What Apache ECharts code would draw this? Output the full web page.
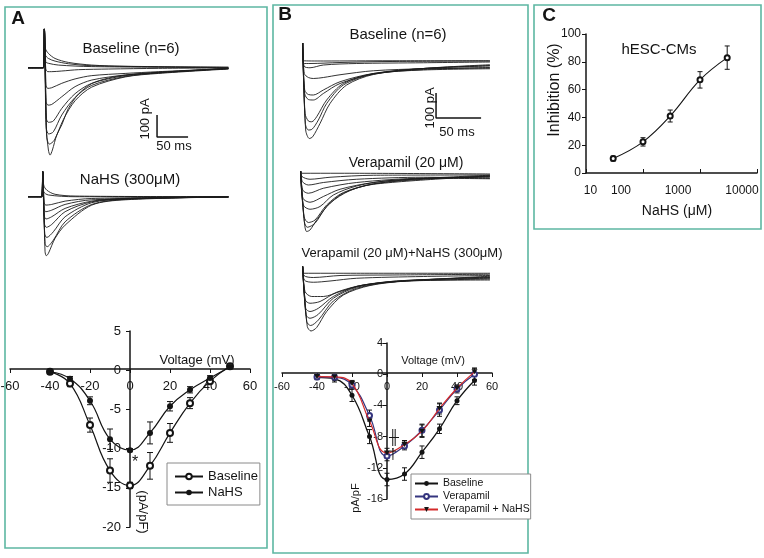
<!DOCTYPE html>
<html><head><meta charset="utf-8">
<script src="https://cdn.jsdelivr.net/npm/echarts@6/dist/echarts.min.js"></script>
<style>html,body{margin:0;padding:0;background:#fff}#c{width:764px;height:558px}</style>
</head><body><div id="c"></div>
<script>
// ---------------- DATA ----------------
// Panel A current traces (time ms, current pA)
const A_BASE_PRE = [[0,0],[24.8,0],[26.4,176]];
const A_BASE_TRACES = [
 [[28.0,88],[32.9,65],[43.6,42],[65.1,24],[102.8,12],[156.6,6],[323,2]],
 [[28.0,58],[32.9,42],[43.6,30],[65.1,18],[102.8,9],[323,2]],
 [[28.6,27],[32.9,20],[49.0,12],[102.8,5],[323,0]],
 [[28.6,-3],[31.8,-18],[38.2,-18],[54.4,-15],[81.3,-9],[129.7,-6],[210.4,-3],[323,-1]],
 [[29.1,-79],[31.8,-94],[38.2,-91],[54.4,-71],[75.9,-51],[102.8,-36],[156.6,-26],[210.4,-18],[323,-4]],
 [[29.1,-154],[32.3,-170],[38.2,-167],[54.4,-132],[75.9,-86],[102.8,-56],[156.6,-33],[210.4,-21],[323,-4]],
 [[29.6,-230],[32.9,-248],[40.9,-242],[54.4,-185],[75.9,-118],[102.8,-71],[156.6,-36],[210.4,-23],[323,-4]],
 [[29.6,-276],[33.4,-301],[40.9,-291],[54.4,-215],[75.9,-135],[102.8,-80],[156.6,-40],[210.4,-24],[323,-4]],
 [[30.2,-314],[34.5,-347],[42.5,-329],[57.1,-235],[75.9,-150],[102.8,-88],[156.6,-42],[210.4,-26],[323,-6]],
 [[29.1,-261],[32.9,-374],[35.6,-397],[39.3,-374],[46.3,-306],[54.4,-260],[65.1,-185],[81.3,-120],[102.8,-72],[129.7,-47],[156.6,-34],[210.4,-21],[264.2,-12],[323,-3]]
];
const A_NAHS_PRE = [[0,0],[22.1,0],[23.7,114]];
const A_NAHS_TRACES = [
 [[25.3,53],[30.2,30],[43.6,11],[75.9,3],[323,0]],
 [[25.3,23],[32.9,8],[75.9,0],[323,0]],
 [[25.9,-23],[28.6,-38],[38.2,-35],[59.8,-20],[102.8,-8],[323,-1]],
 [[25.9,-53],[28.6,-68],[38.2,-61],[59.8,-35],[102.8,-14],[323,-1]],
 [[25.9,-83],[29.1,-101],[38.2,-91],[59.8,-53],[102.8,-20],[156.6,-8],[323,-1]],
 [[26.4,-121],[29.6,-139],[38.2,-126],[59.8,-68],[102.8,-23],[156.6,-9],[323,-1]],
 [[26.9,-167],[30.2,-185],[40.9,-159],[59.8,-91],[102.8,-27],[156.6,-11],[323,-1]],
 [[27.5,-212],[30.7,-227],[40.9,-197],[59.8,-114],[102.8,-35],[156.6,-12],[323,-1]],
 [[27.5,-250],[29.6,-268],[32.9,-257],[43.6,-189],[59.8,-129],[102.8,-38],[156.6,-14],[323,-1]]
];
// Panel B current traces (time ms, current pA)
const B_BASE_PRE = [[3.0,75]];
const B_BASE_TRACES = [
 [[4.1,4],[25.9,3],[99.9,4],[210.9,4]],
 [[4.1,-7],[11.1,-7],[44.4,-3],[99.9,1],[210.9,3]],
 [[4.4,-17],[11.1,-24],[25.9,-13],[62.9,-7],[136.9,-4],[210.9,-1]],
 [[4.8,-47],[9.3,-63],[14.8,-67],[25.9,-63],[44.4,-52],[81.4,-36],[136.9,-28],[210.9,-25]],
 [[5.2,-113],[9.3,-131],[14.8,-133],[25.9,-113],[44.4,-80],[81.4,-47],[136.9,-33],[210.9,-28]],
 [[5.2,-127],[9.3,-151],[14.8,-153],[25.9,-127],[44.4,-87],[81.4,-49],[136.9,-31],[210.9,-23]],
 [[5.6,-207],[9.3,-237],[13.0,-240],[18.5,-220],[29.6,-153],[48.1,-87],[81.4,-47],[136.9,-27],[210.9,-17]],
 [[5.9,-247],[9.3,-273],[13.0,-271],[20.4,-233],[29.6,-167],[48.1,-93],[81.4,-49],[136.9,-27],[210.9,-15]],
 [[6.3,-273],[10.4,-307],[14.1,-300],[22.2,-247],[33.3,-167],[51.8,-93],[81.4,-51],[136.9,-27],[210.9,-12]]
];
const B_VERA_PRE = [[0.7,9]];
const B_VERA_TRACES = [
 [[1.9,0],[44.4,0],[210.9,-3]],
 [[2.2,-13],[11.1,-24],[33.3,-16],[81.4,-8],[210.9,-7]],
 [[2.6,-33],[9.3,-47],[25.9,-37],[62.9,-24],[136.9,-16],[210.9,-20]],
 [[3.0,-67],[9.3,-80],[25.9,-60],[62.9,-37],[136.9,-20],[210.9,-22]],
 [[3.3,-100],[11.1,-116],[25.9,-93],[44.4,-64],[81.4,-37],[136.9,-20],[210.9,-16]],
 [[3.7,-127],[11.1,-144],[22.2,-133],[37.0,-87],[62.9,-51],[99.9,-29],[210.9,-13]],
 [[4.4,-173],[9.3,-197],[16.7,-187],[29.6,-127],[48.1,-77],[81.4,-43],[136.9,-24],[210.9,-11]],
 [[4.8,-193],[8.1,-216],[16.7,-200],[29.6,-133],[48.1,-80],[81.4,-44],[210.9,-11]],
 [[5.2,-207],[7.4,-233],[11.1,-227],[18.5,-187],[33.3,-120],[55.5,-69],[85.1,-40],[136.9,-21],[210.9,-8]]
];
const B_VN_PRE = [[3.0,27]];
const B_VN_TRACES = [
 [[4.4,0],[62.9,0],[210.9,0]],
 [[4.4,-9],[14.8,-17],[44.4,-9],[99.9,-7],[210.9,-4]],
 [[4.8,-27],[14.8,-36],[33.3,-31],[62.9,-20],[136.9,-13],[210.9,-9]],
 [[5.6,-73],[13.0,-93],[25.9,-93],[44.4,-73],[70.3,-47],[118.4,-31],[210.9,-27]],
 [[5.9,-107],[11.1,-120],[22.2,-113],[40.7,-76],[70.3,-47],[118.4,-31],[210.9,-23]],
 [[6.3,-140],[11.1,-153],[20.4,-140],[37.0,-93],[62.9,-53],[107.3,-31],[210.9,-20]],
 [[6.7,-167],[11.1,-180],[20.4,-164],[37.0,-100],[62.9,-56],[107.3,-31],[210.9,-17]],
 [[7.4,-193],[11.8,-209],[20.4,-187],[37.0,-111],[62.9,-60],[107.3,-33],[210.9,-15]],
 [[8.1,-213],[12.2,-231],[18.5,-217],[29.6,-153],[48.1,-87],[77.7,-49],[118.4,-31],[210.9,-12]]
];
// Scale bars (ms, pA): 100 pA / 50 ms
const A_SCALE_BAR = [[208,-215],[208,-315],[258,-315]];
const B_SCALE_BAR = [[151,-125],[151,-225],[201,-225]];

// I-V curves
const IV_VOLT = [-40,-30,-20,-10,0,10,20,30,40,50];
const A_IV_BASE = [-0.2,-1.7,-7.0,-12.8,-14.7,-12.2,-8.0,-4.2,-1.4,0.5];
const A_IV_BASE_ERR = [0,0.4,0.9,1.5,0.4,1.7,1.2,0.7,0.3,0];
const A_IV_NAHS = [-0.2,-1.1,-3.9,-8.8,-10.2,-8.0,-4.6,-2.5,-1.0,0.4];
const A_IV_NAHS_ERR = [0,0.3,0.5,1.3,0.2,1.4,0.6,0.4,0.3,0];
const B_IV_BASE = [-0.4,-0.6,-2.7,-8.0,-13.5,-12.8,-10.0,-7.0,-3.4,-0.8];
const B_IV_BASE_ERR = [0.3,0.4,0.8,0.9,0.8,0.8,0.8,0.6,0.5,0.6];
const B_IV_VERA = [-0.35,-0.4,-1.4,-5.3,-10.5,-9.2,-7.2,-4.6,-1.9,0.0];
const B_IV_VERA_ERR = [0.2,0.3,0.5,0.7,0.6,0.5,0.8,0.8,0.5,0.7];
const B_IV_VN = [-0.3,-0.35,-1.2,-6.0,-10.1,-9.0,-7.3,-4.4,-1.8,0.3];
const B_IV_VN_ERR = [0.2,0.3,0.4,0.7,0.6,0.5,0.8,0.7,0.4,0.5];

// Panel C dose-response
const C_CONC = [30,100,300,1000,3000];
const C_INHIB = [10.4,22.4,41,67,83];
const C_ERR = [1.8,3,4.3,5.9,8.4];

// ---------------- BUILD ----------------
const FONT = 'Liberation Sans, Arial, Helvetica, sans-serif';
const INK = '#141414';
const chart = echarts.init(document.getElementById('c'), null, {renderer:'canvas'});

function pairs(xs, ys){ return xs.map((x,i)=>[x, ys[i]]); }
function errData(xs, ys, es){ const o=[]; xs.forEach((x,i)=>{ if(es[i]>0) o.push([x, ys[i]-es[i], ys[i]+es[i]]); }); return o; }
function errSeries(idx, data, cap, color){
  return {type:'custom', xAxisIndex:idx, yAxisIndex:idx, data:data, encode:{x:0,y:[1,2]}, z:4, silent:true,
    renderItem:function(params, api){
      const x=api.value(0), a=api.coord([x, api.value(1)]), b=api.coord([x, api.value(2)]);
      const st={stroke:color||INK, lineWidth:1};
      return {type:'group', children:[
        {type:'line', shape:{x1:a[0],y1:a[1],x2:b[0],y2:b[1]}, style:st},
        {type:'line', shape:{x1:a[0]-cap,y1:a[1],x2:a[0]+cap,y2:a[1]}, style:st},
        {type:'line', shape:{x1:b[0]-cap,y1:b[1],x2:b[0]+cap,y2:b[1]}, style:st}]};
    }};
}
function traceSeries(idx, pre, traces){
  return traces.map(tr=>({type:'line', xAxisIndex:idx, yAxisIndex:idx, data:pre.concat(tr), symbol:'none',
    smooth:0.3, silent:true, lineStyle:{color:'#1c1c1c', width:0.9}, z:2}));
}
function scaleSeries(idx, pts){
  return {type:'line', xAxisIndex:idx, yAxisIndex:idx, data:pts, symbol:'none', silent:true, lineStyle:{color:INK, width:1.5}};
}
function hiddenAxis(min,max){ return {type:'value', min:min, max:max, show:false}; }
function grid(l,t,w,h){ return {left:l, top:t, width:w, height:h, containLabel:false, outerBoundsMode:'none'}; }
// axes crossing at zero: placed with an offset from the grid edge to the zero line
function ivX(idx, fs, margin, off){
  return {type:'value', gridIndex:idx, min:-60, max:60, interval:20, position:'bottom', offset:off,
    axisLine:{onZero:false, lineStyle:{color:INK, width:1.5}}, axisTick:{length:4, lineStyle:{color:INK}},
    axisLabel:{fontSize:fs, color:INK, fontFamily:FONT, margin:margin}, splitLine:{show:false}};
}
function ivY(idx, min, max, itv, fs, margin, off){
  return {type:'value', gridIndex:idx, min:min, max:max, interval:itv, position:'left', offset:off,
    axisLine:{show:true, onZero:false, lineStyle:{color:INK, width:1.5}}, axisTick:{show:true, length:4, lineStyle:{color:INK}},
    axisLabel:{fontSize:fs, color:INK, fontFamily:FONT, margin:margin}, splitLine:{show:false}};
}

const C_LABEL_PAD = {'10':[0,0,0,9], '100':[0,44,0,0], '1000':[0,44,0,0], '10000':[0,30,0,0]};
const cRich = {}; Object.keys(C_LABEL_PAD).forEach(k=>{ cRich['p'+k] = {padding:C_LABEL_PAD[k], fontSize:12, fontFamily:FONT, color:INK}; });

const series = [].concat(
  traceSeries(0, A_BASE_PRE, A_BASE_TRACES),
  traceSeries(1, A_NAHS_PRE, A_NAHS_TRACES),
  traceSeries(2, B_BASE_PRE, B_BASE_TRACES),
  traceSeries(3, B_VERA_PRE, B_VERA_TRACES),
  traceSeries(4, B_VN_PRE, B_VN_TRACES),
  [scaleSeries(0, A_SCALE_BAR), scaleSeries(2, B_SCALE_BAR)],
  [
   errSeries(5, errData(IV_VOLT, A_IV_BASE, A_IV_BASE_ERR), 3),
   errSeries(5, errData(IV_VOLT, A_IV_NAHS, A_IV_NAHS_ERR), 3),
   {name:'Baseline', type:'line', xAxisIndex:5, yAxisIndex:5, data:pairs(IV_VOLT, A_IV_BASE), smooth:0.45,
    symbol:'emptyCircle', symbolSize:6, itemStyle:{color:INK, borderWidth:1}, lineStyle:{color:INK, width:1.2}, z:5},
   {name:'NaHS', type:'line', xAxisIndex:5, yAxisIndex:5, data:pairs(IV_VOLT, A_IV_NAHS), smooth:0.45,
    symbol:'circle', symbolSize:6, itemStyle:{color:INK}, lineStyle:{color:INK, width:1.2}, z:5},
   errSeries(6, errData(IV_VOLT, B_IV_BASE, B_IV_BASE_ERR), 2.5),
   errSeries(6, errData(IV_VOLT, B_IV_VERA, B_IV_VERA_ERR), 2.5),
   errSeries(6, errData(IV_VOLT, B_IV_VN, B_IV_VN_ERR), 2.5),
   {name:'Baseline (B)', type:'line', xAxisIndex:6, yAxisIndex:6, data:pairs(IV_VOLT, B_IV_BASE), smooth:0.45,
    symbol:'circle', symbolSize:5, itemStyle:{color:INK}, lineStyle:{color:INK, width:1.3}, z:5},
   {name:'Verapamil', type:'line', xAxisIndex:6, yAxisIndex:6, data:pairs(IV_VOLT, B_IV_VERA), smooth:0.45,
    symbol:'emptyCircle', symbolSize:5, itemStyle:{color:'#35357f', borderWidth:1}, lineStyle:{color:'#35357f', width:1.2}, z:6},
   {name:'Verapamil + NaHS', type:'line', xAxisIndex:6, yAxisIndex:6, data:pairs(IV_VOLT, B_IV_VN), smooth:0.45,
    symbol:'path://M0,0 L10,0 L5,9 Z', symbolSize:[6,5], itemStyle:{color:INK}, lineStyle:{color:'#d42a2a', width:1.2}, z:7},
   errSeries(7, errData(C_CONC, C_INHIB, C_ERR), 2.5),
   {name:'hESC', type:'line', xAxisIndex:7, yAxisIndex:7, data:pairs(C_CONC, C_INHIB), smooth:0.4,
    symbol:'emptyCircle', symbolSize:5, itemStyle:{color:INK, borderWidth:1}, lineStyle:{color:INK, width:1.1}, z:5}
  ]
);

function txt(t, x, y, size, opt){
  opt = opt||{};
  return {type:'text', x:x, y:y, rotation:opt.rot||0, z:20, silent:true,
    style:{text:t, fill:INK, font:(opt.bold?'bold ':'')+size+'px '+FONT,
      textAlign:'center', textVerticalAlign:'middle', align:'center', verticalAlign:'middle'}};
}
function box(x,y,w,h){ return {type:'rect', shape:{x:x,y:y,width:w,height:h}, z:1, silent:true,
  style:{fill:'none', stroke:'#5db7a2', lineWidth:1.6}}; }

const option = {
  animation:false, backgroundColor:'#ffffff',
  grid:[grid(28,25,201,140), grid(28,165,201,100), grid(300,40,200,105), grid(300,160,200,80), grid(300,255,200,85),
        grid(10,331,240,196), grid(282,343,210,156), grid(586,34,171,139)],
  xAxis:[
    Object.assign(hiddenAxis(0,324),{gridIndex:0}), Object.assign(hiddenAxis(0,324),{gridIndex:1}),
    Object.assign(hiddenAxis(0,222),{gridIndex:2}), Object.assign(hiddenAxis(0,222),{gridIndex:3}),
    Object.assign(hiddenAxis(0,222),{gridIndex:4}),
    ivX(5, 13, 11, -158), ivX(6, 11, 8, -126),
    {type:'log', logBase:10, gridIndex:7, min:10, max:10000,
     axisLine:{onZero:false, lineStyle:{color:INK, width:1.5}}, axisTick:{inside:true, length:4, lineStyle:{color:INK}},
     minorTick:{show:false}, splitLine:{show:false},
     axisLabel:{margin:12, formatter:function(v){ const k=String(Math.round(v)); return '{p'+k+'|'+k+'}'; }, rich:cRich}}
  ],
  yAxis:[
    Object.assign(hiddenAxis(-442,194),{gridIndex:0}), Object.assign(hiddenAxis(-310,144),{gridIndex:1}),
    Object.assign(hiddenAxis(-333,87),{gridIndex:2}), Object.assign(hiddenAxis(-267,53),{gridIndex:3}),
    Object.assign(hiddenAxis(-267,73),{gridIndex:4}),
    ivY(5, -20, 5, 5, 13, 9, -120), ivY(6, -16, 4, 4, 11, 4, -105),
    {type:'value', gridIndex:7, min:0, max:100, interval:20,
     axisLine:{show:true, onZero:false, lineStyle:{color:INK, width:1.5}}, axisTick:{show:true, length:4, lineStyle:{color:INK}},
     axisLabel:{fontSize:12, color:INK, fontFamily:FONT, margin:5}, splitLine:{show:false}}
  ],
  legend:[
    {data:['Baseline','NaHS'], orient:'vertical', left:167, top:463, itemWidth:28, itemHeight:7, itemGap:3,
     padding:[7,2,6,7], borderColor:'#8a8a8a', borderWidth:1, backgroundColor:'#fff', selectedMode:false,
     textStyle:{fontSize:13, color:INK, fontFamily:FONT}},
    {data:['Baseline (B)','Verapamil','Verapamil + NaHS'], orient:'vertical', left:411, top:474, itemWidth:23, itemHeight:6,
     itemGap:2, padding:[4,1,4,3], borderColor:'#8a8a8a', borderWidth:1, backgroundColor:'#fff', selectedMode:false,
     formatter:function(n){ return n==='Baseline (B)'?'Baseline':n; },
     textStyle:{fontSize:10.5, color:INK, fontFamily:FONT}}
  ],
  series:series,
  graphic:[
    box(5,7,262,541), box(273,5,255,548), box(534,5,227,224),
    txt('A',18,19,19,{bold:true}), txt('B',285,15,19,{bold:true}), txt('C',549,16,19,{bold:true}),
    txt('Baseline (n=6)',131,49,15), txt('NaHS (300μM)',130,180,15),
    txt('100 pA',145,119,13,{rot:Math.PI/2}), txt('50 ms',174,146,13),
    txt('Voltage (mV)',197,360,13), txt('(pA/pF)',143,512,13,{rot:-Math.PI/2}), txt('*',135,463,16),
    txt('Baseline (n=6)',398,35,15), txt('100 pA',430,108,13,{rot:Math.PI/2}), txt('50 ms',457,132,13),
    txt('Verapamil (20 μM)',406,163,14), txt('Verapamil (20 μM)+NaHS (300μM)',402,253,13),
    txt('Voltage (mV)',433,361,11), txt('pA/pF',356,498,11,{rot:Math.PI/2}),
    txt('╫',394,438,14), txt('†',393,455,15),
    txt('hESC-CMs',659,50,15), txt('Inhibition (%)',555,90,16,{rot:Math.PI/2}), txt('NaHS (μM)',677,211,14)
  ]
};
chart.setOption(option);
</script>
</body></html>
